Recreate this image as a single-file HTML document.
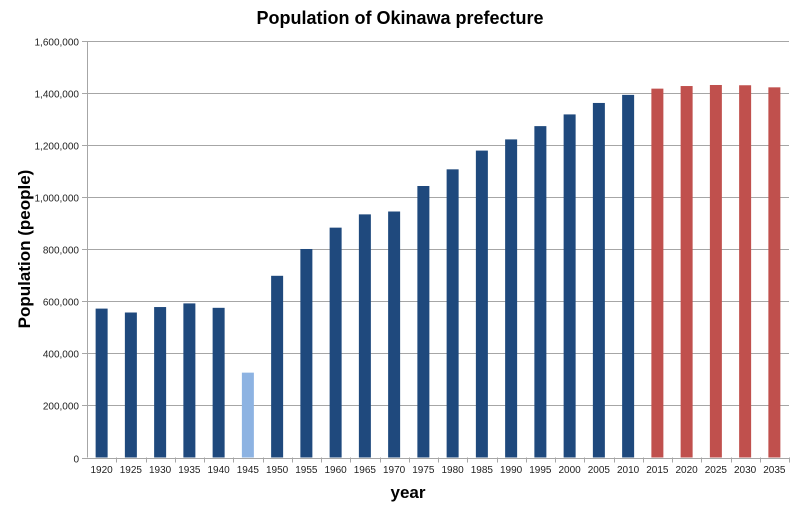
<!DOCTYPE html>
<html><head><meta charset="utf-8"><style>body{margin:0;background:#fff}svg{display:block}</style></head><body>
<svg width="800" height="512" xmlns="http://www.w3.org/2000/svg" font-family="Liberation Sans, sans-serif">
<rect width="800" height="512" fill="#fff"/>
<text x="400" y="24" text-anchor="middle" font-size="18" font-weight="bold">Population of Okinawa prefecture</text>
<g id="grid" stroke="#a6a6a6" stroke-width="1"></g>
<g id="bars"></g>
<g id="lbl" font-size="10" fill="#222"></g>
<text x="408" y="498" text-anchor="middle" font-size="17" font-weight="bold">year</text>
<text transform="translate(30,249) rotate(-90)" text-anchor="middle" font-size="17" font-weight="bold">Population (people)</text>
<script>
var ns="http://www.w3.org/2000/svg";
function el(p,t,a,txt){var e=document.createElementNS(ns,t);for(var k in a)e.setAttribute(k,a[k]);if(txt)e.textContent=txt;p.appendChild(e);}
var g=document.getElementById('grid'),b=document.getElementById('bars'),l=document.getElementById('lbl');
var x0=87,x1=789,y0=457.5,yt=41,cw=(x1-x0)/24,s=(y0-yt)/1600000;
for(var i=0;i<=8;i++){var y=Math.round(y0-i*200000*s)+0.5;el(g,'line',{x1:82,x2:x1,y1:y,y2:y});
el(l,'text',{x:79,y:y+4,'text-anchor':'end'},i==0?'0':(i*200000).toLocaleString('en-US'));}
el(g,'line',{x1:x0+0.5,x2:x0+0.5,y1:yt,y2:y0});
var v=[572,557,578,592,575,326,698,801,883,934,945,1043,1107,1179,1222,1273,1318,1362,1393,1417,1427,1431,1430,1422];
for(var i=0;i<24;i++){var cx=x0+cw*(i+0.5),h=v[i]*1000*s;
var c=i==5?'#8db3e2':(i>=19?'#c0504d':'#1f497d');
el(b,'rect',{x:cx-6,y:y0-h,width:12,height:h,fill:c});
var tx=Math.round(x0+cw*(i+1))+0.5;el(g,'line',{x1:tx,x2:tx,y1:y0,y2:y0+5});
el(l,'text',{x:cx,y:473,'text-anchor':'middle'},String(1920+5*i));}
</script>
</svg>
</body></html>
